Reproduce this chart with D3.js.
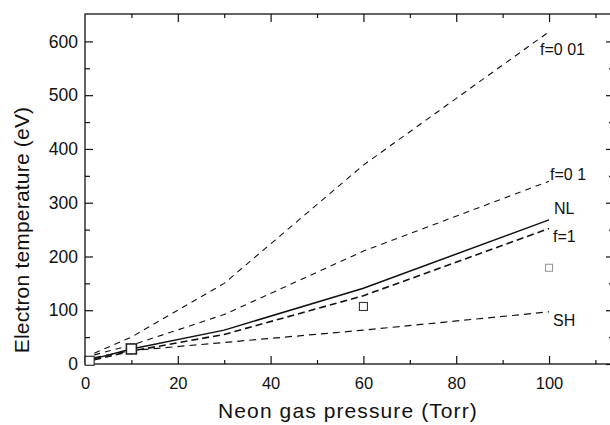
<!DOCTYPE html>
<html><head><meta charset="utf-8">
<script src="https://cdn.jsdelivr.net/npm/d3@7"></script>
<style>
html,body{margin:0;padding:0;background:#fff;}
svg{display:block;font-family:"Liberation Sans",Arial,sans-serif;}
</style></head>
<body><div id="chart"></div>
<script>
const pressure = [2, 10, 30, 60, 100];
const f001 = [20, 50, 150, 370, 618];
const f01  = [17, 35, 92, 210, 340];
const nl   = [10, 28, 63, 141, 268];
const f1   = [8, 24, 55, 127, 252];
const sh   = [12, 25, 40, 63, 97];
const expX = [1, 10, 60, 100];
const expY = [6, 28, 107, 179];
const xTicks = [0, 20, 40, 60, 80, 100];
const yTicks = [0, 100, 200, 300, 400, 500, 600];
const seriesLabels = ["f=0 01", "f=0 1", "NL", "f=1", "SH"];

const W = 610, H = 425;
const m = {left: 85, top: 14, right: 614, bottom: 364};
const x = d3.scaleLinear().domain([0, 114]).range([m.left, m.right]);
const y = d3.scaleLinear().domain([0, 651]).range([m.bottom, m.top]);

const svg = d3.select("#chart").append("svg").attr("width", W).attr("height", H);

// frame
svg.append("rect").attr("x", m.left).attr("y", m.top)
  .attr("width", m.right - m.left).attr("height", m.bottom - m.top)
  .attr("fill", "none").attr("stroke", "#111").attr("stroke-width", 1.3);

// bottom axis
svg.append("g").attr("class", "xl").attr("transform", `translate(0,${m.bottom})`)
  .call(d3.axisBottom(x).tickValues(xTicks).tickSize(-8).tickPadding(13).tickFormat(d3.format("d")));
svg.append("g").attr("transform", `translate(0,${m.bottom})`)
  .call(d3.axisBottom(x).tickValues(d3.range(10, 114, 20)).tickSize(-4).tickFormat(""));
// top axis
svg.append("g").attr("transform", `translate(0,${m.top})`)
  .call(d3.axisTop(x).tickValues(d3.range(20, 114, 20)).tickSize(-8).tickFormat(""));
svg.append("g").attr("transform", `translate(0,${m.top})`)
  .call(d3.axisTop(x).tickValues(d3.range(10, 114, 20)).tickSize(-4).tickFormat(""));
// left axis
svg.append("g").attr("class", "yl").attr("transform", `translate(${m.left},0)`)
  .call(d3.axisLeft(y).tickValues(yTicks).tickSize(-8).tickPadding(7).tickFormat(d3.format("d")));
svg.append("g").attr("transform", `translate(${m.left},0)`)
  .call(d3.axisLeft(y).tickValues(d3.range(50, 650, 100)).tickSize(-5).tickFormat(""));
// right axis
svg.append("g").attr("transform", `translate(${m.right},0)`)
  .call(d3.axisRight(y).tickValues(yTicks).tickSize(-8).tickFormat(""));
svg.append("g").attr("transform", `translate(${m.right},0)`)
  .call(d3.axisRight(y).tickValues(d3.range(50, 650, 100)).tickSize(-5).tickFormat(""));

svg.selectAll(".domain").remove();
svg.selectAll(".tick line").attr("stroke", "#111").attr("stroke-width", 1.2);
svg.selectAll(".tick text").attr("fill", "#111")
  .attr("font-family", "'Liberation Sans',Arial,sans-serif");
svg.selectAll(".xl .tick text").attr("font-size", 16.5);
svg.selectAll(".yl .tick text").attr("font-size", 17.5);

const line = d3.line().x((d, i) => x(pressure[i])).y(d => y(d));
const styles = [
  {data: f001, dash: "6,5", w: 1.1},
  {data: f01, dash: "6,5", w: 1.1},
  {data: nl, dash: null, w: 1.5},
  {data: f1, dash: "7,4", w: 1.6},
  {data: sh, dash: "7,5", w: 1.2}
];
styles.forEach(s => {
  svg.append("path").datum(s.data).attr("d", line)
    .attr("fill", "none").attr("stroke", "#111")
    .attr("stroke-width", s.w).attr("stroke-dasharray", s.dash);
});

// experimental squares
const sqSize = [9, 10, 8, 7];
const sqStroke = ["#222", "#222", "#333", "#999"];
expX.forEach((px, i) => {
  const s = sqSize[i];
  svg.append("rect").attr("x", x(px) - s / 2).attr("y", y(expY[i]) - s / 2)
    .attr("width", s).attr("height", s).attr("fill", "#fff")
    .attr("stroke", sqStroke[i]).attr("stroke-width", i === 1 ? 1.6 : 1.1);
});

// series labels
const labPos = [[540, 55], [550, 180], [554, 214], [553, 242], [553, 326]];
seriesLabels.forEach((t, i) => {
  svg.append("text").attr("x", labPos[i][0]).attr("y", labPos[i][1])
    .attr("font-size", 16).attr("fill", "#111").text(t);
});

// axis titles
svg.append("text").attr("x", 348).attr("y", 418).attr("text-anchor", "middle")
  .attr("font-size", 21).attr("letter-spacing", 1.1).attr("fill", "#111")
  .text("Neon gas pressure (Torr)");
svg.append("text").attr("transform", "translate(29,230) rotate(-90)")
  .attr("text-anchor", "middle").attr("font-size", 21).attr("letter-spacing", 0.2)
  .attr("fill", "#111").text("Electron temperature (eV)");
</script></body></html>
